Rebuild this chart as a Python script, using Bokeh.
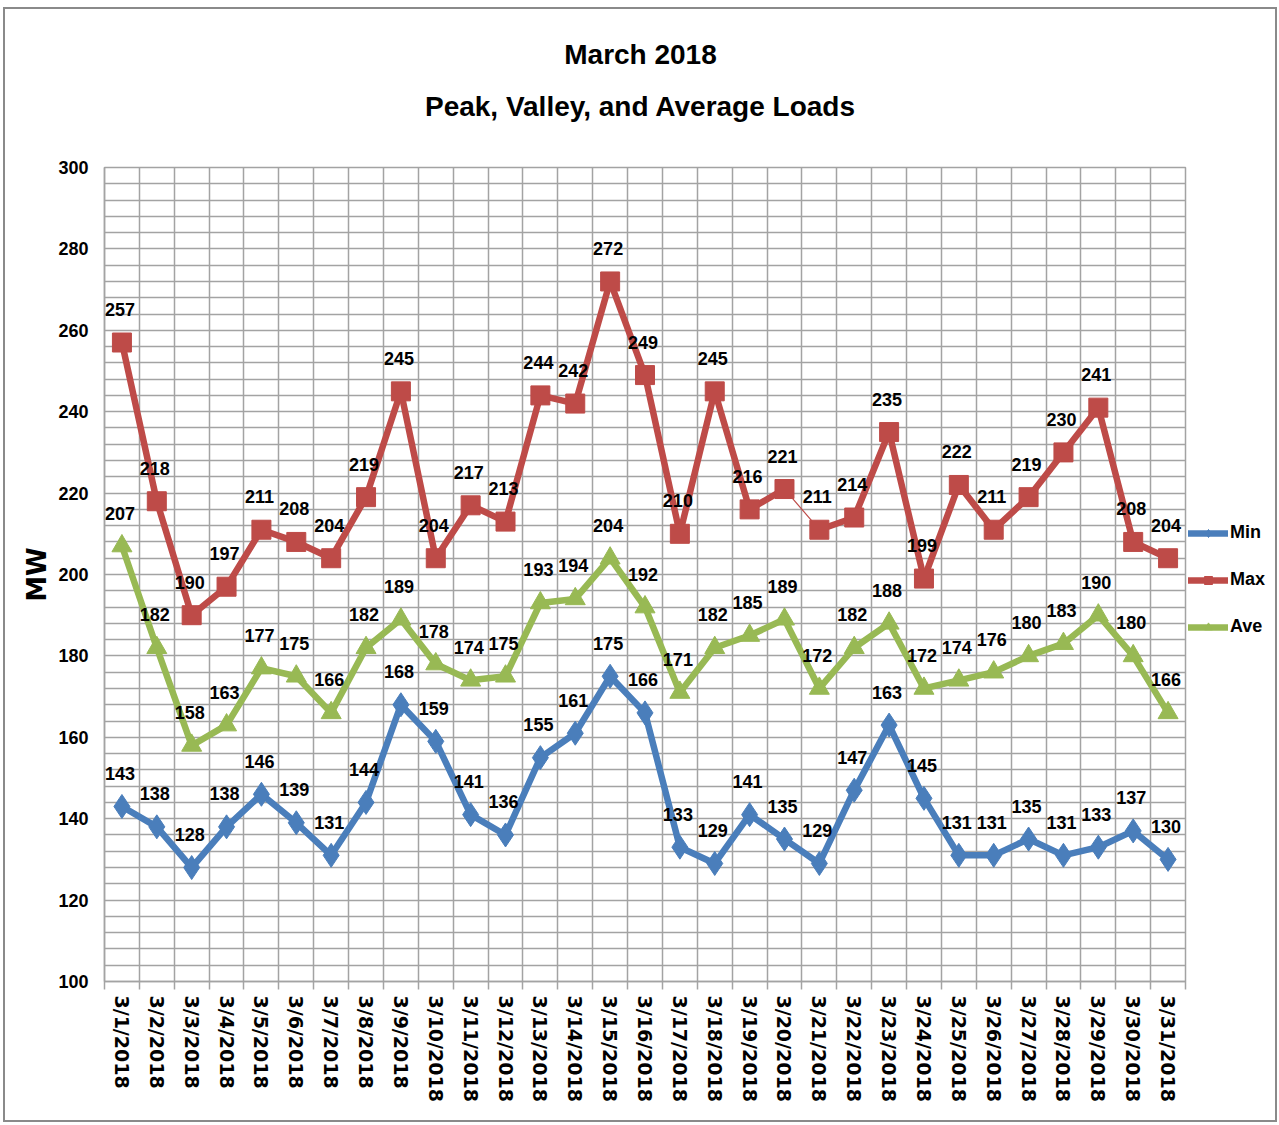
from bokeh.plotting import figure
from bokeh.layouts import column, row
from bokeh.models import (FixedTicker, Legend, LegendItem, ColumnDataSource, Range1d)
from bokeh.embed import file_html
from bokeh.resources import INLINE
from bokeh.core.properties import value

# ---------------- data ----------------
days = list(range(1, 32))
date_labels = ["3/%d/2018" % d for d in days]
min_load = [143, 138, 128, 138, 146, 139, 131, 144, 168, 159, 141, 136, 155, 161, 175, 166,
            133, 129, 141, 135, 129, 147, 163, 145, 131, 131, 135, 131, 133, 137, 130]
max_load = [257, 218, 190, 197, 211, 208, 204, 219, 245, 204, 217, 213, 244, 242, 272, 249,
            210, 245, 216, 221, 211, 214, 235, 199, 222, 211, 219, 230, 241, 208, 204]
ave_load = [207, 182, 158, 163, 177, 175, 166, 182, 189, 178, 174, 175, 193, 194, 204, 192,
            171, 182, 185, 189, 172, 182, 188, 172, 174, 176, 180, 183, 190, 180, 166]
y_ticks = list(range(100, 301, 20))
title_lines = ["March 2018", "Peak, Valley, and Average Loads"]
series_names = ["Min", "Max", "Ave"]

# ---------------- style ----------------
FONT = "Liberation Sans"
BLUE = "#4a7ebb"
RED = "#be4b48"
GREEN = "#98b954"
GRID = "#a3a3a3"
LW = 6.5

# ---------------- header (title) ----------------
hdr = figure(width=1270, height=130, x_range=Range1d(0, 1270), y_range=Range1d(0, 130),
             output_backend="svg", toolbar_location=None, min_border=0,
             x_axis_location=None, y_axis_location=None)
hdr.grid.visible = False
hdr.outline_line_color = None
hdr.text(x=[635, 635], y=[85, 33], text=title_lines, text_font=value(FONT),
         text_font_style="bold", text_font_size="28px", text_color="black",
         text_align="center", text_baseline="middle")

# ---------------- main chart ----------------
p = figure(width=1182, height=981, output_backend="svg", toolbar_location=None,
           x_range=Range1d(0.5, 31.5), y_range=Range1d(100, 300),
           min_border_left=99, min_border_right=2, min_border_top=28, min_border_bottom=139)
p.background_fill_color = "white"
p.border_fill_color = "white"
p.outline_line_color = GRID
p.outline_line_width = 1.5

boundaries = [d - 0.5 for d in days] + [days[-1] + 0.5]
p.xgrid.ticker = FixedTicker(ticks=boundaries)
p.ygrid.ticker = FixedTicker(ticks=list(range(100, 301, 4)))
for g in (p.xgrid, p.ygrid):
    g.grid_line_color = GRID
    g.grid_line_width = 1.5

p.xaxis.ticker = FixedTicker(ticks=days, minor_ticks=boundaries)
p.xaxis.major_label_overrides = {d: lab for d, lab in zip(days, date_labels)}
p.xaxis.major_label_orientation = "vertical"
p.xaxis.major_tick_line_color = None
p.xaxis.minor_tick_in = 0
p.xaxis.minor_tick_out = 8
p.xaxis.minor_tick_line_color = GRID
p.xaxis.minor_tick_line_width = 1.5
p.xaxis.axis_line_color = GRID
p.xaxis.axis_line_width = 1.5
p.xaxis.major_label_text_font = "DejaVu Sans"
p.xaxis.major_label_text_font_style = "bold"
p.xaxis.major_label_text_font_size = "19px"
p.xaxis.major_label_text_color = "black"
p.xaxis.major_label_standoff = 6

p.yaxis.ticker = FixedTicker(ticks=y_ticks)
p.yaxis.major_tick_line_color = None
p.yaxis.minor_tick_line_color = None
p.yaxis.axis_line_color = GRID
p.yaxis.axis_line_width = 1.5
p.yaxis.major_label_text_font = FONT
p.yaxis.major_label_text_font_style = "bold"
p.yaxis.major_label_text_font_size = "18px"
p.yaxis.major_label_text_color = "black"
p.yaxis.major_label_standoff = 10
p.yaxis.axis_label = "MW"
p.yaxis.axis_label_text_font = "DejaVu Sans"
p.yaxis.axis_label_text_font_style = "bold"
p.yaxis.axis_label_text_font_size = "26px"
p.yaxis.axis_label_text_color = "black"
p.yaxis.axis_label_standoff = 3

# Min
p.line(days, min_load, line_color=BLUE, line_width=LW, line_join="round")
p.scatter(days, min_load, marker="diamond", size=24, fill_color=BLUE, line_color=BLUE)

# Max (one segment drawn thin as in the original)
seg_w = [LW] * (len(days) - 1)
seg_w[19] = 1.2
max_src = ColumnDataSource(dict(x0=days[:-1], y0=max_load[:-1], x1=days[1:], y1=max_load[1:], w=seg_w))
p.segment("x0", "y0", "x1", "y1", source=max_src, line_color=RED, line_width="w", line_cap="round")
p.scatter(days, max_load, marker="square", size=19, fill_color=RED, line_color=RED)

# Ave
p.line(days, ave_load, line_color=GREEN, line_width=LW, line_join="round")
p.scatter(days, ave_load, marker="triangle", size=20, fill_color=GREEN, line_color=GREEN)

# data labels
for series in (min_load, max_load, ave_load):
    src = ColumnDataSource(dict(x=days, y=series, t=[str(v) for v in series]))
    p.text("x", "y", "t", source=src, text_font=value(FONT), text_font_style="bold",
           text_font_size="18px", text_color="black", text_align="center",
           text_baseline="middle", x_offset=-2, y_offset=-33)

# ---------------- legend panel ----------------
lf = figure(width=88, height=981, x_range=Range1d(0, 1), y_range=Range1d(0, 1),
            output_backend="svg", toolbar_location=None, min_border=0,
            x_axis_location=None, y_axis_location=None)
lf.grid.visible = False
lf.outline_line_color = None
items = []
for name, col, mk, sz in zip(series_names, [BLUE, RED, GREEN], ["diamond", "square", "triangle"], [16, 13, 14]):
    # proxy glyphs lying outside the visible range: only their legend swatch shows
    rl = lf.line([-5, -4], [-5, -4], line_color=col, line_width=LW, line_cap="round")
    rm = lf.scatter([-5], [-5], marker=mk, size=sz, fill_color=col, line_color=col)
    items.append(LegendItem(label=name, renderers=[rl, rm]))
legend = Legend(items=items, location=(1, 344), orientation="vertical")
legend.border_line_color = None
legend.background_fill_alpha = 0
legend.label_text_font = FONT
legend.label_text_font_style = "bold"
legend.label_text_font_size = "18px"
legend.label_text_color = "black"
legend.glyph_width = 40
legend.glyph_height = 20
legend.spacing = 26
legend.padding = 4
legend.margin = 0
legend.label_standoff = 2
lf.add_layout(legend)

layout = column(hdr, row(p, lf), styles={"border": "2px solid #8a8a8a",
                                          "margin-left": "3px", "margin-top": "7px"})

open("out.html", "w").write(file_html(layout, INLINE))
